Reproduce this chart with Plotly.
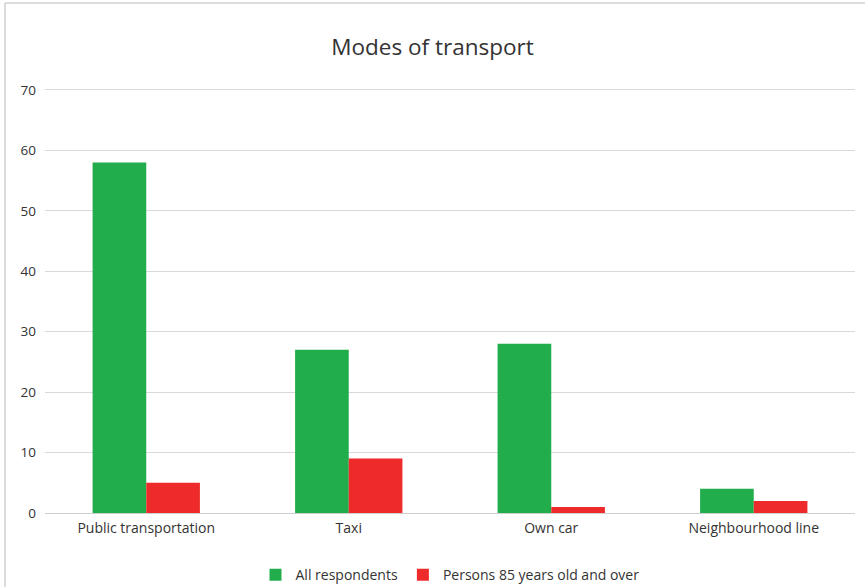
import plotly.graph_objects as go

categories = ["Public transportation", "Taxi", "Own car", "Neighbourhood line"]
all_respondents = [58, 27, 28, 4]
persons_85_plus = [5, 9, 1, 2]
y_ticks = [0, 10, 20, 30, 40, 50, 60, 70]

fig = go.Figure()
fig.add_trace(go.Bar(x=categories, y=all_respondents, name="All respondents",
                     marker=dict(color="#22AD4C", line=dict(width=0))))
fig.add_trace(go.Bar(x=categories, y=persons_85_plus, name="Persons 85 years old and over",
                     marker=dict(color="#EE2A2B", line=dict(width=0))))

fig.update_layout(
    width=865, height=587,
    paper_bgcolor="white", plot_bgcolor="white",
    font=dict(family="Open Sans", size=14, color="#333333"),
    title=dict(text="Modes of transport", x=0.5, xanchor="center", y=0.92, yref="container",
               yanchor="middle", font=dict(size=22.5, color="#333333")),
    barmode="group", bargap=0.47, bargroupgap=0,
    margin=dict(l=45, r=10, t=88, b=74, autoexpand=False),
    showlegend=True,
    legend=dict(orientation="h", x=0.5, xanchor="center", y=-0.146, yanchor="middle",
                font=dict(size=14), itemwidth=30, bgcolor="rgba(0,0,0,0)"),
    xaxis=dict(showgrid=False, showline=True, linecolor="#CFCFCF", linewidth=1,
               ticks="outside", ticklen=2, tickcolor="rgba(0,0,0,0)", tickfont=dict(size=14)),
    yaxis=dict(range=[0, 70.33], tickvals=y_ticks, showgrid=True, gridcolor="#D9D9D9",
               gridwidth=1, zeroline=False, showline=False, ticks="",
               ticklabelstandoff=8, tickfont=dict(size=13.5)),
    shapes=[
        # outer frame, only left and top edges are visible in the source
        dict(type="line", xref="paper", yref="paper", x0=-0.0494, x1=-0.0494, y0=-0.2, y1=1.2,
             line=dict(color="#D0D0D0", width=1.5)),
        dict(type="line", xref="paper", yref="paper", x0=-0.0494, x1=1.02, y0=1.2, y1=1.2,
             line=dict(color="#D0D0D0", width=1.5)),
    ],
)

fig.write_html("out.html", config={"displayModeBar": False},
               post_script="document.body.style.margin='0';")
